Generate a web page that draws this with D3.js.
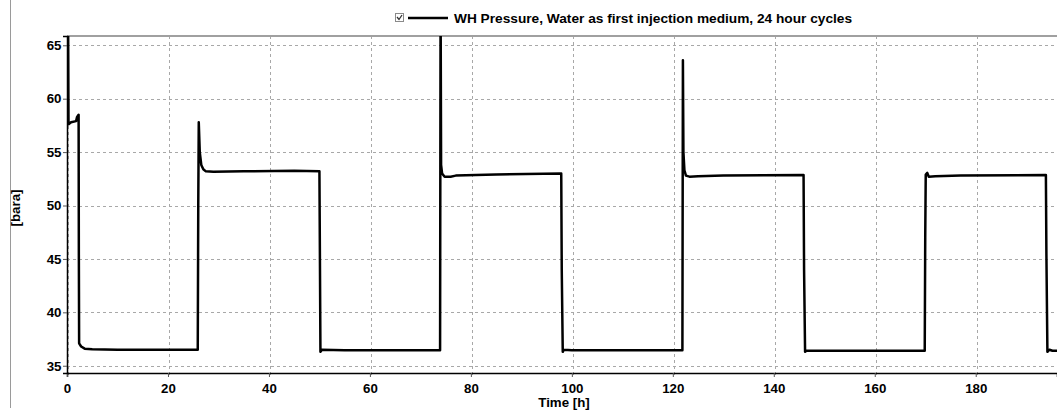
<!DOCTYPE html>
<html>
<head>
<meta charset="utf-8">
<script src="https://cdn.jsdelivr.net/npm/d3@7"></script>
<style>
  body { margin: 0; background: #fff; }
  svg { display: block; font-family: "Liberation Sans", Arial, sans-serif; }
</style>
</head>
<body>
<div id="chart"></div>
<script>
// time [h] and wellhead pressure [bara]
const times = [
  0.2, 0.3, 0.8, 1.8, 2.0, 2.3, 2.35, 2.4, 2.8, 3.5, 5, 10, 25.9,
  26.0, 26.1, 26.3, 26.6, 27, 27.5, 29, 35, 45, 50.0,
  50.1, 50.2, 50.5, 55, 73.9,
  74.0, 74.1, 74.3, 74.8, 76, 77, 85, 97.9,
  98.0, 98.2, 98.4, 100, 121.9,
  122.0, 122.1, 122.3, 122.6, 123.3, 125, 130, 145.9,
  146.0, 146.2, 146.5, 150, 169.9,
  170.0, 170.1, 170.4, 170.7, 172, 177, 193.9,
  194.0, 194.2, 194.6, 195.2, 196.5
]
const pressure = [
  70, 57.6, 57.8, 57.9, 58.3, 58.5, 45, 37.1, 36.8, 36.6, 36.55, 36.5, 36.5,
  50, 57.8, 55, 53.8, 53.4, 53.2, 53.15, 53.2, 53.25, 53.2,
  45, 36.3, 36.5, 36.45, 36.45,
  70, 53.8, 53.0, 52.7, 52.7, 52.8, 52.9, 53.0,
  44, 36.3, 36.5, 36.45, 36.45,
  63.6, 55, 53.3, 52.8, 52.7, 52.75, 52.8, 52.85,
  44, 36.3, 36.4, 36.4, 36.4,
  47, 52.9, 53.05, 52.7, 52.75, 52.8, 52.85,
  45.5, 36.3, 36.5, 36.4, 36.4
]
const xTicks = [0, 20, 40, 60, 80, 100, 120, 140, 160, 180]
const yTicks = [35, 40, 45, 50, 55, 60, 65]
const xDomain = [0, 196.1]
const yDomain = [34.32, 65.87]
const legendLabel = "WH Pressure, Water as first injection medium, 24 hour cycles"

const WIDTH = 1057
const HEIGHT = 414
const MARGIN = { top: 36, right: 0, bottom: 41, left: 67 }
const FONT = "13.3px"

const svg = d3.select("#chart").append("svg")
  .attr("width", WIDTH)
  .attr("height", HEIGHT)

const x = d3.scaleLinear().domain(xDomain).range([MARGIN.left, WIDTH - MARGIN.right])
const y = d3.scaleLinear().domain(yDomain).range([HEIGHT - MARGIN.bottom, MARGIN.top])

// panel splitter on the left
svg.append("line")
  .attr("x1", 10.5).attr("x2", 10.5)
  .attr("y1", 0).attr("y2", 408)
  .attr("stroke", "#9a9a9a")

// grid
svg.append("g")
  .selectAll("line")
  .data(yTicks)
  .join("line")
  .attr("x1", MARGIN.left).attr("x2", WIDTH)
  .attr("y1", d => Math.round(y(d)) + 0.5).attr("y2", d => Math.round(y(d)) + 0.5)
  .attr("stroke", "#a8a8a8")
  .attr("stroke-dasharray", "3,3")

svg.append("g")
  .selectAll("line")
  .data(xTicks)
  .join("line")
  .attr("x1", d => Math.round(x(d)) + 1.5).attr("x2", d => Math.round(x(d)) + 1.5)
  .attr("y1", MARGIN.top).attr("y2", HEIGHT - MARGIN.bottom + 4)
  .attr("stroke", "#a8a8a8")
  .attr("stroke-dasharray", "3,3")

// top border
svg.append("line")
  .attr("x1", MARGIN.left).attr("x2", WIDTH)
  .attr("y1", MARGIN.top).attr("y2", MARGIN.top)
  .attr("stroke", "#a0a0a0")
  .attr("stroke-width", 2)

// clip
svg.append("clipPath")
  .attr("id", "plot-clip")
  .append("rect")
  .attr("x", MARGIN.left)
  .attr("y", MARGIN.top)
  .attr("width", WIDTH - MARGIN.left)
  .attr("height", HEIGHT - MARGIN.top - MARGIN.bottom)

const line = d3.line()
  .x((d, i) => x(times[i]))
  .y(d => y(d))

svg.append("path")
  .datum(pressure)
  .attr("clip-path", "url(#plot-clip)")
  .attr("fill", "none")
  .attr("stroke", "#000")
  .attr("stroke-width", 2.5)
  .attr("stroke-linejoin", "round")
  .attr("d", line)

// axes
const xAxis = svg.append("g")
  .attr("transform", `translate(0, ${HEIGHT - MARGIN.bottom})`)
  .call(d3.axisBottom(x).tickValues(xTicks).tickSize(4).tickPadding(3).tickFormat(d3.format("d")))
const yAxis = svg.append("g")
  .attr("transform", `translate(${MARGIN.left}, 0)`)
  .call(d3.axisLeft(y).tickValues(yTicks).tickSize(4).tickPadding(1.5).tickFormat(d3.format("d")))

xAxis.select(".domain").attr("stroke-width", 1.5)
yAxis.select(".domain").attr("stroke-width", 1.5)
;[xAxis, yAxis].forEach(a => {
  a.selectAll(".tick line").attr("stroke", "#555")
  a.selectAll(".tick text")
    .attr("font-size", FONT)
    .attr("font-weight", "bold")
    .attr("font-family", "Liberation Sans, Arial, sans-serif")
    .attr("fill", "#000")
})
xAxis.selectAll(".tick text").attr("dy", "0.95em")

// axis titles
svg.append("text")
  .attr("x", 564)
  .attr("y", 407)
  .attr("text-anchor", "middle")
  .attr("font-size", FONT)
  .attr("font-weight", "bold")
  .text("Time [h]")

svg.append("text")
  .attr("transform", "translate(20, 208) rotate(-90)")
  .attr("text-anchor", "middle")
  .attr("font-size", FONT)
  .attr("font-weight", "bold")
  .text("[bara]")

// legend
const legend = svg.append("g").attr("transform", "translate(395, 13)")
legend.append("rect")
  .attr("x", 0.5).attr("y", 0.5)
  .attr("width", 8).attr("height", 8)
  .attr("fill", "#fff")
  .attr("stroke", "#8a8a8a")
legend.append("path")
  .attr("d", "M2,4 L4,6.5 L7,2")
  .attr("fill", "none")
  .attr("stroke", "#333")
  .attr("stroke-width", 1.3)
legend.append("line")
  .attr("x1", 13).attr("x2", 53)
  .attr("y1", 5).attr("y2", 5)
  .attr("stroke", "#000")
  .attr("stroke-width", 2.5)
legend.append("text")
  .attr("x", 59)
  .attr("y", 10)
  .attr("font-size", "13.7px")
  .attr("font-weight", "bold")
  .text(legendLabel)
</script>
</body>
</html>
